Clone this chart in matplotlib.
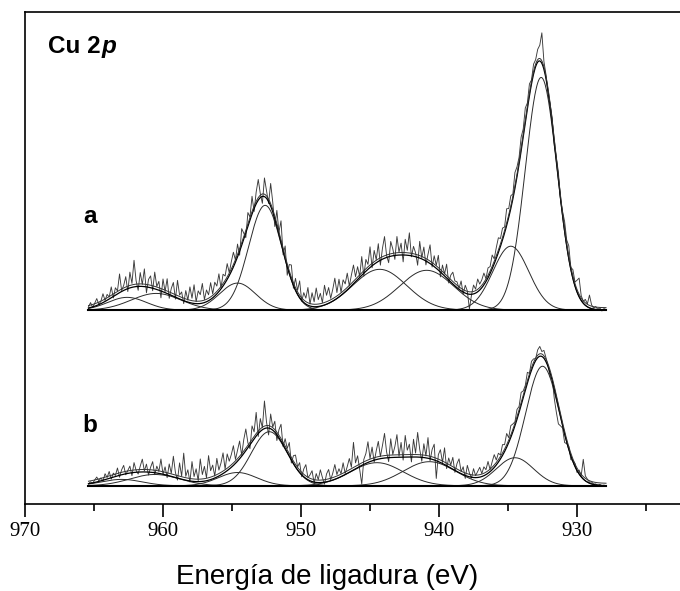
import numpy as np
import matplotlib
matplotlib.use("Agg")
import matplotlib.pyplot as plt

# Cu 2p XPS spectra, two samples (a, b), with fitted gaussian components
energy = np.linspace(965.4, 927.9, 251)       # binding energy grid (eV), 0.15 eV step
energy_fine = np.linspace(965.4, 927.9, 700)

# fitted components: centre (eV), height, sigma (eV)
a_centers = [932.6, 934.8, 940.9, 944.3, 952.6, 954.6, 960.5, 962.6]
a_heights = [47.3, 13.0, 8.1, 8.3, 21.3, 5.5, 3.4, 2.6]
a_sigmas = [1.15, 1.3, 1.95, 1.95, 1.2, 1.3, 1.8, 1.4]

b_centers = [932.5, 934.5, 940.7, 944.5, 952.3, 954.6, 960.6, 963.0]
b_heights = [24.3, 5.7, 4.9, 4.7, 11.0, 2.7, 2.3, 1.3]
b_sigmas = [1.23, 1.35, 1.9, 1.9, 1.3, 1.4, 1.8, 1.5]

a_resid = [
    0.2, 1.0, -0.1, 0.6, 1.4, 0.0, 0.5, 1.8, 0.2, 1.2,
    0.4, 2.2, -0.3, 1.5, 0.6, 3.8, 0.2, 1.0, 2.6, -0.6,
    3.2, 0.8, 5.4, 1.2, -0.8, 2.8, 0.4, 3.6, -1.2, 1.6,
    2.4, -0.5, 3.4, 0.6, 1.8, -1.4, 2.6, 0.2, 3.0, -0.8,
    1.4, 2.8, -0.4, 3.6, 0.8, 1.6, -0.6, 2.2, 0.4, 3.2,
    1.0, 3.8, 0.4, 2.6, 1.8, 4.0, 0.6, 2.4, 1.2, 3.4,
    0.8, 2.8, 1.6, 3.6, 0.2, 2.4, 1.4, 3.2, 0.6, 2.0,
    3.0, 0.4, 2.6, -0.8, 3.4, 1.2, -1.0, 2.8, 0.6, 3.6,
    -0.6, 2.4, 4.2, 0.8, -1.4, 3.8, 1.6, -0.4, 4.6, 2.0,
    -1.6, 3.2, 0.4, 4.4, -0.8, 2.6, -1.8, 1.8, 3.0, -0.6,
    2.4, 0.8, 3.4, -0.2, 2.0, 1.2, 3.6, 0.4, 2.8, 1.0,
    3.8, 1.4, 2.6, 0.6, 4.0, 1.8, 3.2, 0.8, 2.4, 4.4,
    1.2, 3.6, 0.6, 2.8, 1.6, 3.4, 0.4, 2.2, 3.8, 1.0,
    2.6, 0.2, 3.8, -0.6, 2.4, 1.0, 4.2, -0.4, 2.8, 0.6,
    3.6, -1.0, 2.2, 4.4, 0.4, -1.2, 3.0, 1.4, -0.8, 3.8,
    0.6, 2.4, -1.4, 3.2, 1.0, 4.6, -0.2, 2.0, 0.8, -1.6,
    3.4, 0.2, 2.6, -0.8, 1.6, 3.8, -0.4, 2.2, 0.6, 3.0,
    -1.0, 1.8, 0.4, 2.8, -0.6, 1.4, 2.4, 1.0, 1.2, 0.2,
    2.0, -0.4, 1.6, 0.6, -3.0, -0.2, 1.8, 0.8, 2.6, 1.2,
    1.6, 2.4, 0.6, 2.0, 1.4, 2.8, 1.0, 2.2, 3.0, 1.6,
    2.4, 1.2, 3.4, 1.8, 2.6, 1.0, 3.2, 2.0, 1.4, 2.8,
    1.6, 3.0, 1.2, 2.4, 0.8, 2.0, 1.4, 2.6, 3.2, 6.2,
    1.6, 0.8, -0.6, 0.4, 1.0, -0.8, 0.6, 1.4, -0.4, 0.8,
    2.0, 1.2, 2.6, 0.4, 1.8, 0.8, 2.4, 3.8, 1.0, 0.4,
    1.2, 0.6, 2.6, 0.8, 0.2, 0.6, 0.1, 0.4, -0.2, 0.3,
    0.1,
]
b_resid = [
    0.0, 0.3, -0.1, 0.5, 1.0, 0.1, 0.6, -0.2, 1.2, 0.3,
    1.4, -0.3, 0.8, 0.2, 1.6, -0.4, 1.0, 1.8, -0.2, 0.6,
    1.4, -0.6, 2.0, 0.4, -0.4, 1.2, 2.6, 0.2, 1.6, -0.6,
    1.0, 2.2, -0.4, 1.4, 0.4, 3.0, 0.0, 1.6, -0.5, 2.4,
    0.6, 4.2, 1.0, -0.4, 3.2, 0.6, 5.4, 0.8, 2.2, -0.2,
    4.0, 1.0, 2.6, 0.2, 4.6, 1.4, 3.0, 0.6, 5.0, 1.8,
    2.8, 0.4, 3.8, 1.2, 2.4, 4.2, 0.6, 3.4, 1.6, 2.6,
    4.0, 0.8, 2.2, 3.6, 0.2, 2.8, 4.4, 1.0, -0.8, 3.2,
    1.4, 4.8, -0.6, 2.6, 0.4, 5.6, 1.2, -1.4, 3.0, 0.6,
    2.2, -1.2, 1.6, 3.4, -0.4, 2.0, 0.8, 2.8, -0.6, 1.6,
    2.4, 0.6, 2.0, -0.4, 1.6, 2.8, 0.4, 1.2, 2.2, -0.2,
    1.8, 0.6, 2.6, 1.0, -0.4, 1.6, 2.4, 0.2, 1.4, 3.0,
    0.8, 1.8, 0.6, 2.6, 0.2, 1.4, 2.8, 0.8, 5.6, 1.2,
    2.4, -0.6, -3.8, 1.0, 2.0, 4.2, 0.6, 2.8, -0.4, 1.8,
    3.6, 0.4, 2.6, 5.0, 1.2, -0.8, 3.8, 0.6, 2.2, 4.6,
    0.2, 3.0, -0.6, 4.4, 1.4, 2.6, -1.0, 3.6, 0.8, 5.0,
    1.6, -0.8, 2.8, 0.4, 4.2, -0.4, 2.0, 3.2, -3.6, 1.4,
    2.6, 0.2, 3.4, -0.6, 1.8, 0.6, 2.4, -0.4, 1.6, 2.8,
    0.4, 1.6, -0.6, 2.2, 0.8, -0.2, 1.8, 0.4, 1.2, 2.0,
    0.6, 1.8, 1.0, 2.4, 0.4, 1.6, 2.6, 1.0, 1.8, 0.8,
    2.2, 1.4, 2.8, 1.0, 2.4, 1.6, 0.8, 2.0, 1.2, 2.6,
    1.4, 1.0, 2.2, 0.6, 1.8, 1.2, 0.4, 1.6, 2.0, 1.0,
    1.6, 0.8, 0.2, -0.8, 0.4, -2.0, -3.0, -3.5, -2.0, -0.6,
    -1.8, -0.4, 0.6, -0.8, 0.2, 0.6, -0.4, 0.8, 0.2, 4.0,
    1.0, 0.6, 0.2, 0.4, 0.1, 0.2, 0.0, 0.2, 0.0, 0.1,
    0.0,
]

a_offset = 39.4
b_offset = 3.7


def gauss(x, c, h, s):
    return h * np.exp(-(x - c) ** 2 / (2 * s ** 2))


fig = plt.figure(figsize=(6.8, 5.91), dpi=100)
ax = fig.add_axes([25 / 680, 1 - 504 / 591, 1 - 25 / 680, 492 / 591])

for offset, centers, heights, sigmas, resid in [
    (a_offset, a_centers, a_heights, a_sigmas, a_resid),
    (b_offset, b_centers, b_heights, b_sigmas, b_resid),
]:
    env = sum(gauss(energy, c, h, s) for c, h, s in zip(centers, heights, sigmas))
    ax.plot(energy, offset + env + np.array(resid), color="#3a3a3a", lw=0.65)

    env_fine = np.zeros_like(energy_fine)
    for c, h, s in zip(centers, heights, sigmas):
        comp = gauss(energy_fine, c, h, s)
        env_fine += comp
        ax.plot(energy_fine, offset + comp, color="#2a2a2a", lw=0.7)
    ax.plot(energy_fine, offset + env_fine, color="black", lw=0.9)
    ax.plot(energy_fine, offset + env_fine + 0.5, color="#333333", lw=0.7)
    ax.plot([energy[0], energy[-1]], [offset, offset], color="black", lw=1.5)

ax.set_xlim(970, 922.54)
ax.set_ylim(0, 100)
ax.set_yticks([])
ax.set_xticks([970, 960, 950, 940, 930])
ax.set_xticks([965, 955, 945, 935, 925], minor=True)
ax.tick_params(axis="x", which="major", direction="out", length=9, width=1.2,
               labelsize=15, pad=4)
ax.tick_params(axis="x", which="minor", direction="out", length=5, width=1.2)
for lbl in ax.get_xticklabels():
    lbl.set_fontfamily("Liberation Serif")
ax.spines["right"].set_visible(False)
for side in ["left", "top", "bottom"]:
    ax.spines[side].set_linewidth(1.2)

fig.text(327 / 680, 1 - 584 / 591, "Energía de ligadura (eV)", ha="center",
         va="baseline", fontsize=20, family="Liberation Sans")

# "Cu 2p" with bold italic p
t = fig.text(48 / 680, 1 - 53 / 591, "Cu 2", fontsize=17.5, fontweight="bold",
             family="Liberation Sans", va="baseline")
renderer = fig.canvas.get_renderer()
bb = t.get_window_extent(renderer)
fig.text(bb.x1 / 680 + 1 / 680, 1 - 53 / 591, "p", fontsize=17.5, fontweight="bold",
         style="italic", family="Liberation Sans", va="baseline")

fig.text(83 / 680, 1 - 223 / 591, "a", fontsize=17.5, fontweight="bold",
         family="Liberation Sans", va="baseline")
fig.text(82 / 680, 1 - 432 / 591, "b", fontsize=17.5, fontweight="bold",
         family="Liberation Sans", va="baseline")

fig.savefig("out.png", dpi=100)
